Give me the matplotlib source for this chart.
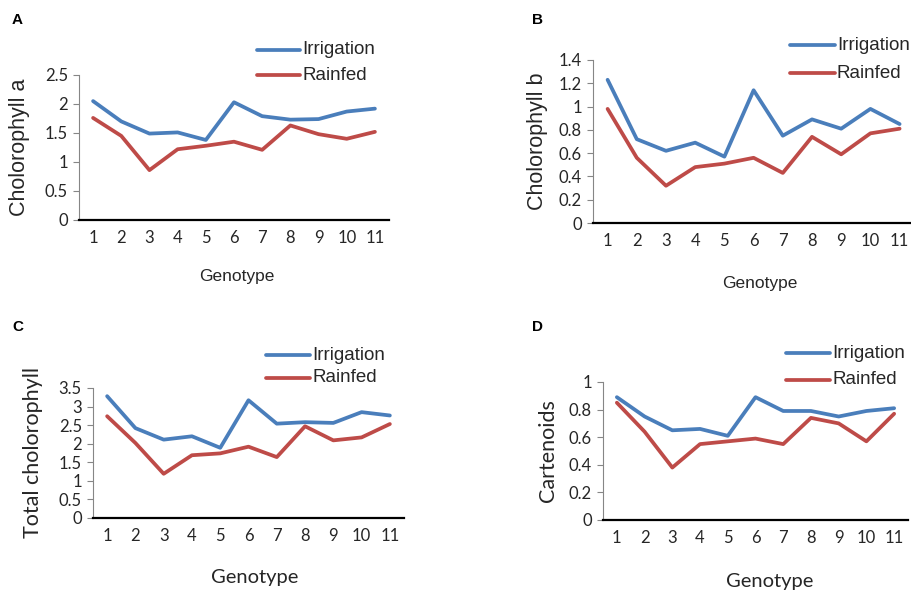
import matplotlib
matplotlib.use("Agg")
import matplotlib.pyplot as plt
from matplotlib.lines import Line2D

W, H = 911, 593

genotypes = [1, 2, 3, 4, 5, 6, 7, 8, 9, 10, 11]
genotype_labels = [str(g) for g in genotypes]

chl_a_irrigation = [2.05, 1.70, 1.49, 1.51, 1.38, 2.03, 1.79, 1.73, 1.74, 1.87, 1.92]
chl_a_rainfed = [1.76, 1.45, 0.86, 1.22, 1.28, 1.35, 1.21, 1.63, 1.48, 1.40, 1.52]

chl_b_irrigation = [1.23, 0.72, 0.62, 0.69, 0.57, 1.14, 0.75, 0.89, 0.81, 0.98, 0.85]
chl_b_rainfed = [0.98, 0.56, 0.32, 0.48, 0.51, 0.56, 0.43, 0.74, 0.59, 0.77, 0.81]

total_irrigation = [3.28, 2.42, 2.11, 2.20, 1.89, 3.17, 2.54, 2.58, 2.56, 2.85, 2.76]
total_rainfed = [2.74, 2.02, 1.19, 1.69, 1.74, 1.92, 1.64, 2.47, 2.09, 2.17, 2.53]

car_irrigation = [0.89, 0.75, 0.65, 0.66, 0.61, 0.89, 0.79, 0.79, 0.75, 0.79, 0.81]
car_rainfed = [0.85, 0.64, 0.38, 0.55, 0.57, 0.59, 0.55, 0.74, 0.70, 0.57, 0.77]

BLUE = "#4a7ebb"
RED = "#be4b48"
TICKFONT = ["Lato", "DejaVu Sans"]
ARIAL = ["Liberation Sans", "DejaVu Sans"]

fig = plt.figure(figsize=(W / 100, H / 100), dpi=100)


def rect(l, t, r, b):
    return [l / W, 1 - b / H, (r - l) / W, (b - t) / H]


panels = [
    dict(letter="A", box=(79, 75, 389, 220), xmax=11.5, ymax=2.5, step=0.5,
         irr=chl_a_irrigation, rain=chl_a_rainfed, ylabel="Cholorophyll a",
         ylab_x=20, ylab_size=15.5, ylab_font=ARIAL, gx=237, gy=276, gsize=12.5, gfont=ARIAL,
         leg=(257, 300, 50, 75), lx=12, ly=20),
    dict(letter="B", box=(593, 60, 911, 223), xmax=0.5 + (911 - 593) / 29.2, ymax=1.4, step=0.2,
         irr=chl_b_irrigation, rain=chl_b_rainfed, ylabel="Cholorophyll b",
         ylab_x=537, ylab_size=15.5, ylab_font=ARIAL, gx=760, gy=283, gsize=12.5, gfont=ARIAL,
         leg=(790, 835, 45, 73), lx=532, ly=20),
    dict(letter="C", box=(93, 388, 404, 518), xmax=11.5, ymax=3.5, step=0.5,
         irr=total_irrigation, rain=total_rainfed, ylabel="Total cholorophyll",
         ylab_x=33, ylab_size=15.5, ylab_font=TICKFONT, gx=255, gy=578, gsize=14.5, gfont=TICKFONT,
         leg=(266, 310, 355, 378), lx=12, ly=327),
    dict(letter="D", box=(603, 382, 908, 520), xmax=11.5, ymax=1.0, step=0.2,
         irr=car_irrigation, rain=car_rainfed, ylabel="Cartenoids",
         ylab_x=548, ylab_size=15.5, ylab_font=TICKFONT, gx=770, gy=582, gsize=14.5, gfont=TICKFONT,
         leg=(786, 830, 353, 380), lx=532, ly=327),
]

for p in panels:
    l, t, r, b = p["box"]
    ax = fig.add_axes(rect(l, t, r, b))
    ax.plot(genotypes, p["irr"], color=BLUE, lw=2.7, solid_capstyle="round",
            solid_joinstyle="round")
    ax.plot(genotypes, p["rain"], color=RED, lw=2.7, solid_capstyle="round",
            solid_joinstyle="round")
    ax.set_xlim(0.5, p["xmax"])
    ax.set_ylim(0, p["ymax"])
    n = int(round(p["ymax"] / p["step"]))
    yt = [round(i * p["step"], 2) for i in range(n + 1)]
    ax.set_yticks(yt)
    ax.set_yticklabels([f"{v:g}" for v in yt], fontfamily=TICKFONT, fontsize=12,
                       color="#262626")
    ax.set_xticks(genotypes)
    ax.set_xticklabels(genotype_labels, fontfamily=TICKFONT, fontsize=12,
                       color="#262626")
    for s in ("top", "right"):
        ax.spines[s].set_visible(False)
    ax.spines["left"].set_color("#868686")
    ax.spines["left"].set_linewidth(0.8)
    ax.spines["bottom"].set_color("#000000")
    ax.spines["bottom"].set_linewidth(1.6)
    ax.tick_params(axis="y", length=4, color="#868686", width=0.8, pad=4)
    ax.tick_params(axis="x", length=0, pad=7)
    ax.patch.set_alpha(0)

    fig.text(p["ylab_x"] / W, 1 - ((t + b) / 2) / H, p["ylabel"], rotation=90,
             ha="center", va="center", fontsize=p["ylab_size"],
             fontfamily=p["ylab_font"], color="#262626")
    fig.text(p["gx"] / W, 1 - p["gy"] / H, "Genotype", ha="center", va="center",
             fontsize=p["gsize"], fontfamily=p["gfont"], color="#262626")
    fig.text(p["lx"] / W, 1 - p["ly"] / H, p["letter"], ha="left", va="center",
             fontsize=11, fontweight="bold", fontfamily=ARIAL, color="black")

    x0, x1, y_irr, y_rain = p["leg"]
    for yy, col, lab in ((y_irr, BLUE, "Irrigation"), (y_rain, RED, "Rainfed")):
        fig.add_artist(Line2D([x0 / W, x1 / W], [1 - yy / H, 1 - yy / H],
                              transform=fig.transFigure, color=col, lw=2.7,
                              solid_capstyle="round"))
        fig.text((x1 + 2) / W, 1 - yy / H, lab, ha="left", va="center",
                 fontsize=13.5, fontfamily=ARIAL, color="#262626")

fig.savefig("out.png", dpi=100)
